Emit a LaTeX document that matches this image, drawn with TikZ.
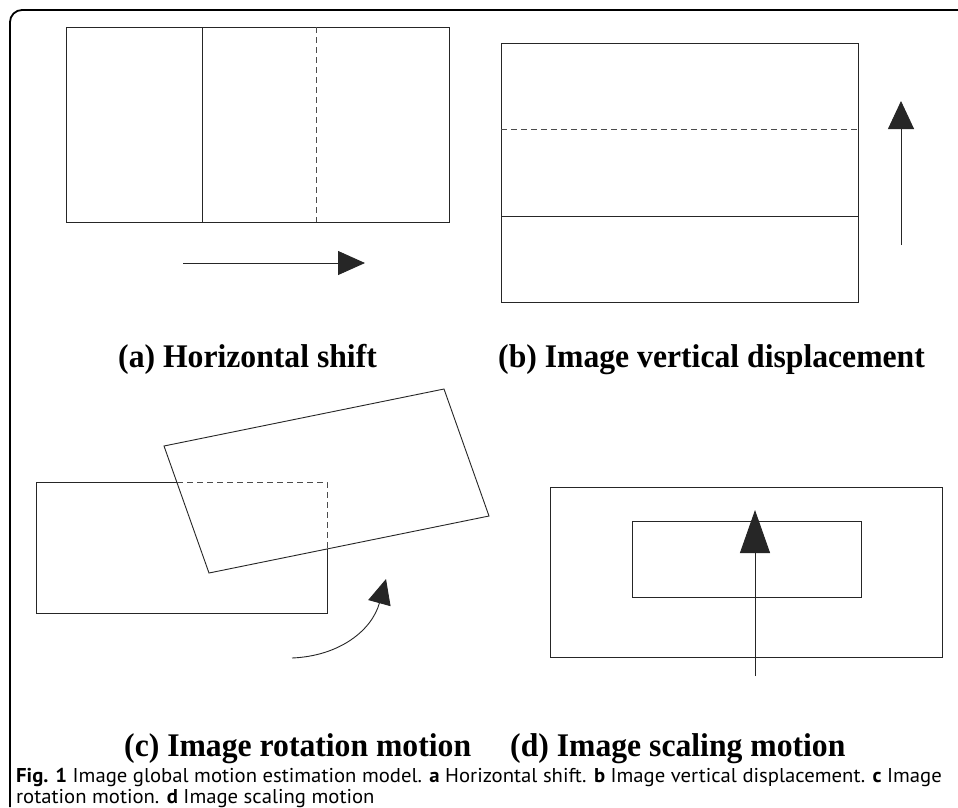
\documentclass[tikz,border=0pt]{standalone}
\usepackage{fontspec}
\setmainfont{Liberation Serif}
\newfontfamily\capfont[FakeStretch=0.96]{Liberation Serif}
\newfontfamily\figfont[FakeStretch=1.035]{PT Sans}
\usetikzlibrary{arrows.meta}
\begin{document}
\begin{tikzpicture}[x=1pt,y=-1pt,
  thin line/.style={draw=black!85, line width=0.9pt},
  dashed line/.style={draw=black!70, line width=0.9pt, dash pattern=on 6pt off 4pt},
  frame line/.style={draw=black, line width=1.8pt},
  panel title/.style={font=\capfont\fontsize{33}{36}\selectfont\bfseries, inner sep=0pt},
  fig text/.style={font=\figfont\fontsize{20}{24}\selectfont, inner sep=0pt, anchor=base west},
  motion arrow/.style={draw=black!85, line width=0.9pt},
]
\useasboundingbox (0,0) rectangle (958,807);
\fill[white] (0,0) rectangle (958,807);

% outer frame with rounded top-left corner
\draw[frame line, rounded corners=12pt] (10,807) -- (10,10) -- (958,10);

% (a) horizontal shift
\draw[thin line] (66,27) rectangle (449,222);
\draw[thin line] (202,27) -- (202,222);
\draw[dashed line] (316,27) -- (316,222);
\coordinate (a0) at (183,263);
\coordinate (a1) at (365,263);
\draw[motion arrow, -{Triangle[length=27pt,width=24pt]}] (a0) -- (a1);

% (b) vertical displacement
\draw[thin line] (501,43) rectangle (858,302);
\draw[dashed line] (501,129) -- (858,129);
\draw[thin line] (501,216) -- (858,216);
\coordinate (b0) at (901,245);
\coordinate (b1) at (901,101);
\draw[motion arrow, -{Triangle[length=28pt,width=26pt]}] (b0) -- (b1);

% (c) rotation motion
\coordinate (r1) at (164,446);
\coordinate (r2) at (444,389);
\coordinate (r3) at (489,516);
\coordinate (r4) at (209,573);
\draw[thin line] (r1) -- (r2) -- (r3) -- (r4) -- cycle;
\draw[thin line] (177,482) -- (36,482) -- (36,613) -- (327,613) -- (327,549);
\draw[dashed line] (177,482) -- (327,482) -- (327,549);
\coordinate (c0) at (292,658);
\coordinate (c1) at (386,579);
\draw[motion arrow, -{Triangle[length=25pt,width=23pt]}]
  (c0) .. controls (340,656) and (372,630) .. (c1);

% (d) scaling motion
\draw[thin line] (550,487) rectangle (942,657);
\draw[thin line] (632,521) rectangle (861,597);
\coordinate (d0) at (755,676);
\coordinate (d1) at (755,510);
\draw[motion arrow, -{Triangle[length=43pt,width=30pt]}] (d0) -- (d1);

% panel titles
\node[panel title, anchor=base west] (ta) at (118,367) {(a) Horizontal shift};
\node[panel title, anchor=base west] (tb) at (498,367) {(b) Image vertical displacement};
\node[panel title, anchor=base west] (tc) at (124,756) {(c) Image rotation motion};
\node[panel title, anchor=base west] (td) at (510,756) {(d) Image scaling motion};

% figure caption
\node[fig text] (f1) at (16,782) {\textbf{Fig. 1} Image global motion estimation model. \textbf{a} Horizontal shift. \textbf{b} Image vertical displacement. \textbf{c} Image};
\node[fig text] (f2) at (16,803) {rotation motion. \textbf{d} Image scaling motion};
\end{tikzpicture}
\end{document}
